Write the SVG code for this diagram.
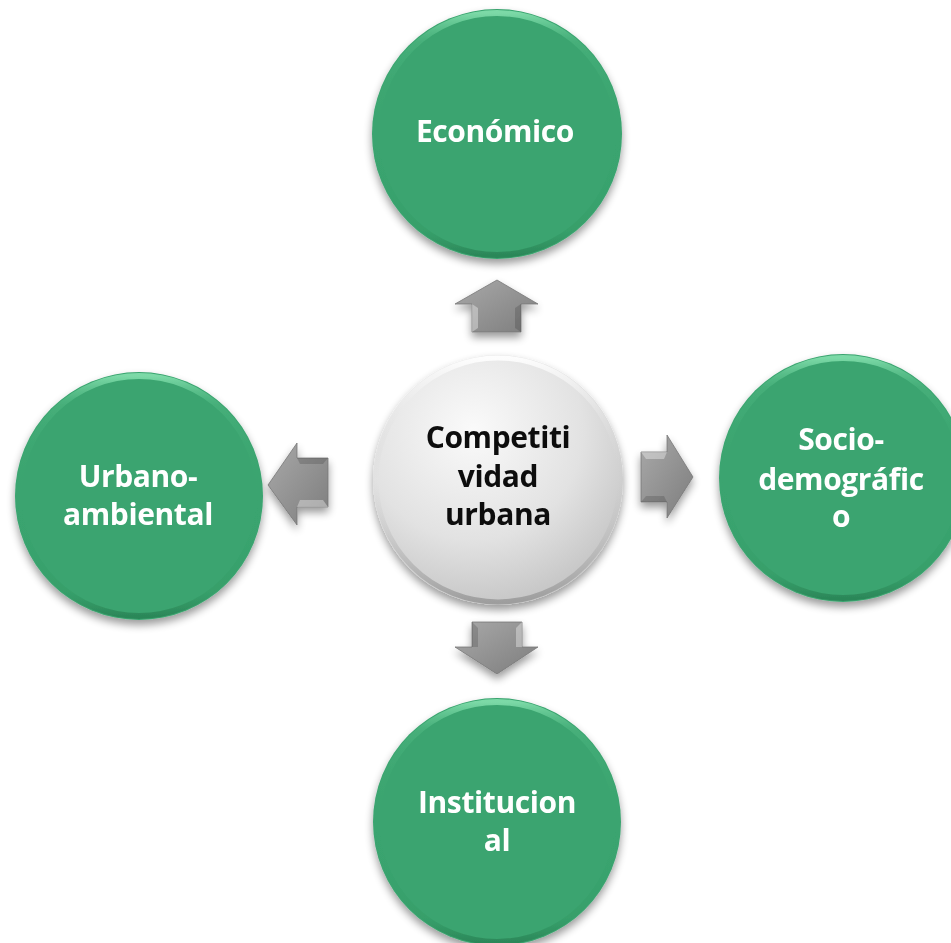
<svg xmlns="http://www.w3.org/2000/svg" width="951" height="943" viewBox="0 0 951 943">
<defs>
<filter id="shadow" x="-20%" y="-20%" width="140%" height="150%">
<feGaussianBlur in="SourceAlpha" stdDeviation="4"/>
<feOffset dx="0" dy="5" result="b"/>
<feComponentTransfer><feFuncA type="linear" slope="0.4"/></feComponentTransfer>
<feMerge><feMergeNode/><feMergeNode in="SourceGraphic"/></feMerge>
</filter>
<linearGradient id="rim" x1="0" y1="0" x2="0" y2="1">
<stop offset="0" stop-color="#7fdcaa" stop-opacity="0.95"/>
<stop offset="0.12" stop-color="#5cc28d" stop-opacity="0.35"/>
<stop offset="0.5" stop-color="#3aa46f" stop-opacity="0"/>
<stop offset="0.9" stop-color="#2a8a58" stop-opacity="0.2"/>
<stop offset="1" stop-color="#22744a" stop-opacity="0.6"/>
</linearGradient>
<radialGradient id="silver" cx="0.4" cy="0.3" r="0.8">
<stop offset="0" stop-color="#fafafa"/>
<stop offset="0.55" stop-color="#e2e2e2"/>
<stop offset="1" stop-color="#bdbdbd"/>
</radialGradient>
<linearGradient id="silverRim" x1="0" y1="0" x2="0" y2="1">
<stop offset="0" stop-color="#ffffff" stop-opacity="0.9"/>
<stop offset="0.5" stop-color="#cccccc" stop-opacity="0"/>
<stop offset="1" stop-color="#8c8c8c" stop-opacity="0.7"/>
</linearGradient>
<linearGradient id="arrowFill" x1="0" y1="0" x2="1" y2="1">
<stop offset="0" stop-color="#a9a9a9"/>
<stop offset="1" stop-color="#7d7d7d"/>
</linearGradient>
<style>
.green{fill:#3aa46f;}
.rim{fill:none;stroke:url(#rim);stroke-width:6;}
.lbl{font-family:"Open Sans","Noto Sans","Liberation Sans",sans-serif;font-weight:bold;font-size:30px;letter-spacing:-0.4px;text-anchor:middle;fill:#ffffff;}
.dark{fill:#111111;}
.arrow{fill:url(#arrowFill);stroke:#777777;stroke-width:0.8;}
.hl{fill:#ffffff;fill-opacity:0.35;}
.sh{fill:#000000;fill-opacity:0.15;}
</style>
</defs>

<g id="connectors" filter="url(#shadow)">
<g id="arrow-up">
<polygon class="arrow" points="497,280 538,304 521,304 521,332 472,332 472,304 455,304"/>
<polygon class="hl" points="472,304 478,308 478,328 472,332"/>
<polygon class="sh" points="521,304 515,308 515,328 521,332"/>
</g>
<g id="arrow-down">
<polygon class="arrow" points="472,622 522,622 522,647 538,647 497,674 455,647 472,647"/>
<polygon class="hl" points="522,622 516,628 516,647 522,647"/>
<polygon class="sh" points="472,622 478,628 478,647 472,647"/>
</g>
<g id="arrow-left">
<polygon class="arrow" points="268,485 297,443 297,458 328,458 328,507 297,507 297,525"/>
<polygon class="hl" points="297,507 328,507 323,500 300,500"/>
<polygon class="sh" points="297,458 328,458 323,464 300,464"/>
</g>
<g id="arrow-right">
<polygon class="arrow" points="641,452 667,452 667,435 693,477 667,518 667,502 641,502"/>
<polygon class="hl" points="641,452 667,452 664,459 646,459"/>
<polygon class="sh" points="641,502 667,502 664,496 646,496"/>
</g>
</g>

<g id="node-center" filter="url(#shadow)">
<circle cx="498" cy="480" r="125" fill="url(#silver)"/>
<circle cx="498" cy="480" r="122" fill="none" stroke="url(#silverRim)" stroke-width="5"/>
<text class="lbl dark" x="498" y="448">Competiti</text>
<text class="lbl dark" x="498" y="487">vidad</text>
<text class="lbl dark" x="498" y="525">urbana</text>
</g>

<g id="node-economico" filter="url(#shadow)">
<circle class="green" cx="497" cy="134" r="125"/>
<circle class="rim" cx="497" cy="134" r="121"/>
<text class="lbl" x="495" y="142">Económico</text>
</g>

<g id="node-sociodemografico" filter="url(#shadow)">
<circle class="green" cx="843" cy="478" r="124"/>
<circle class="rim" cx="843" cy="478" r="120"/>
<text class="lbl" x="841" y="450">Socio-</text>
<text class="lbl" x="841" y="490">demográfic</text>
<text class="lbl" x="841" y="527">o</text>
</g>

<g id="node-urbanoambiental" filter="url(#shadow)">
<circle class="green" cx="139" cy="496" r="124"/>
<circle class="rim" cx="139" cy="496" r="120"/>
<text class="lbl" x="138" y="487">Urbano-</text>
<text class="lbl" x="138" y="525">ambiental</text>
</g>

<g id="node-institucional" filter="url(#shadow)">
<circle class="green" cx="497" cy="822" r="124"/>
<circle class="rim" cx="497" cy="822" r="120"/>
<text class="lbl" x="497" y="813">Institucion</text>
<text class="lbl" x="497" y="851">al</text>
</g>
</svg>
